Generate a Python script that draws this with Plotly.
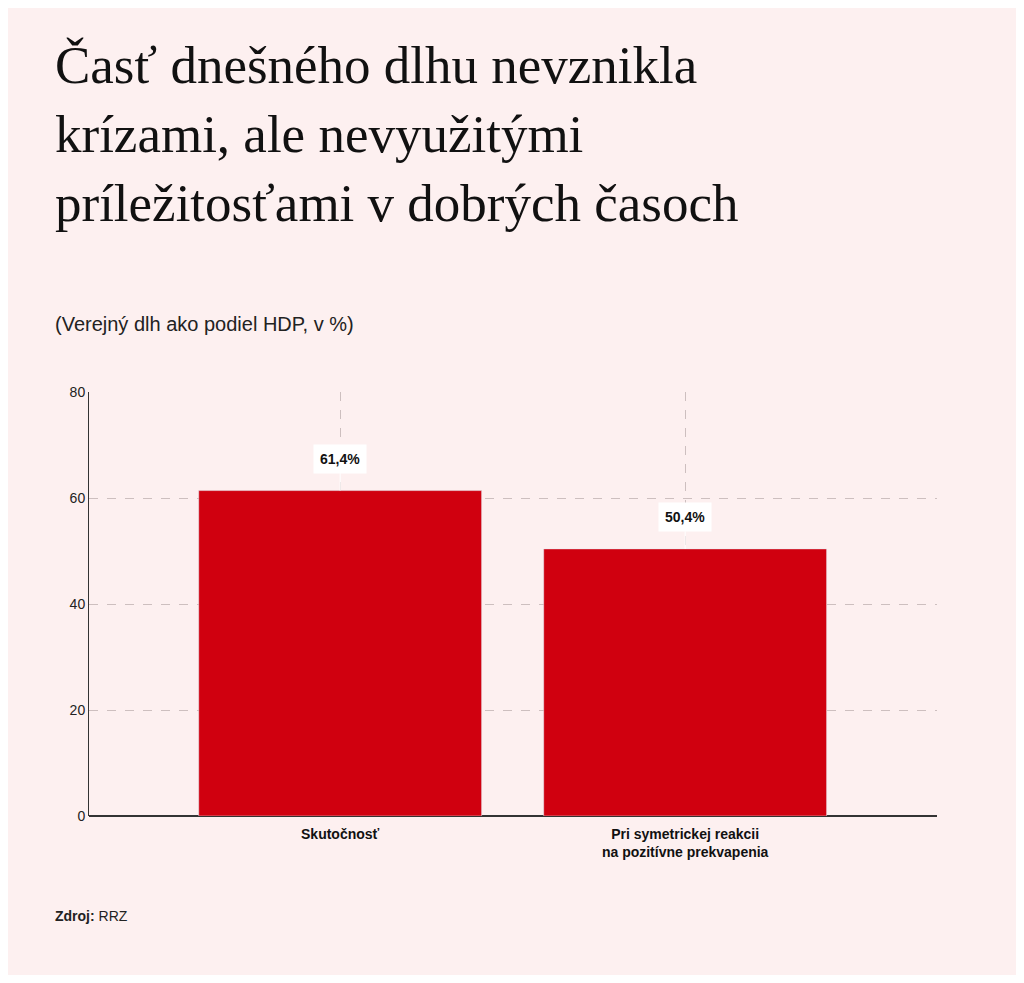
import plotly.graph_objects as go

categories = ["Skutočnosť", "Pri symetrickej reakcii<br>na pozitívne prekvapenia"]
values = [61.4, 50.4]
labels = ["61,4%", "50,4%"]
yticks = [0, 20, 40, 60, 80]

bg = "#fdf0f0"
fig = go.Figure(go.Bar(x=categories, y=values, marker_color="#d0000f", width=0.82))
for c, v, l in zip(categories, values, labels):
    fig.add_annotation(x=c, y=v, text="<b>" + l + "</b>", showarrow=True, arrowhead=0,
                       arrowcolor="white", ax=0, ay=-32, bgcolor="white", borderpad=6,
                       font=dict(family="Liberation Sans", size=14, color="#111"))
fig.update_layout(
    width=1008, height=967, paper_bgcolor=bg, plot_bgcolor=bg, showlegend=False,
    margin=dict(l=81, r=79, t=384, b=159),
    font=dict(family="Liberation Sans", color="#222"),
    xaxis=dict(showline=False, showgrid=True, gridcolor="#cdbfbf", griddash="dash",
               range=[-0.728, 1.73], type="category",
               tickfont=dict(size=14, color="#111", family="Liberation Sans", weight="bold"),
               ticks="", ticklabelstandoff=8),
    yaxis=dict(range=[0, 80], tickvals=yticks, showgrid=True, gridcolor="#cdbfbf",
               griddash="dash", showline=True, linecolor="#333", zeroline=True,
               zerolinecolor="#333", tickfont=dict(size=14, color="#222")),
)
fig.add_annotation(xref="paper", yref="paper", x=-0.043, y=1.0, xanchor="left", yanchor="bottom", yshift=158,
                   text="Časť dnešného dlhu nevznikla<br>krízami, ale nevyužitými<br>príležitosťami v dobrých časoch",
                   showarrow=False, align="left",
                   font=dict(family="Liberation Serif", size=53, color="#111"))
fig.add_annotation(xref="paper", yref="paper", x=-0.043, y=1.0, xanchor="left", yanchor="bottom", yshift=55,
                   text="(Verejný dlh ako podiel HDP, v %)", showarrow=False,
                   font=dict(family="Liberation Sans", size=20, color="#222"))
fig.add_annotation(xref="paper", yref="paper", x=-0.043, y=0, xanchor="left", yanchor="top", yshift=-90,
                   text="<b>Zdroj:</b> RRZ", showarrow=False,
                   font=dict(family="Liberation Sans", size=14, color="#222"))
fig.write_html("out.html")
